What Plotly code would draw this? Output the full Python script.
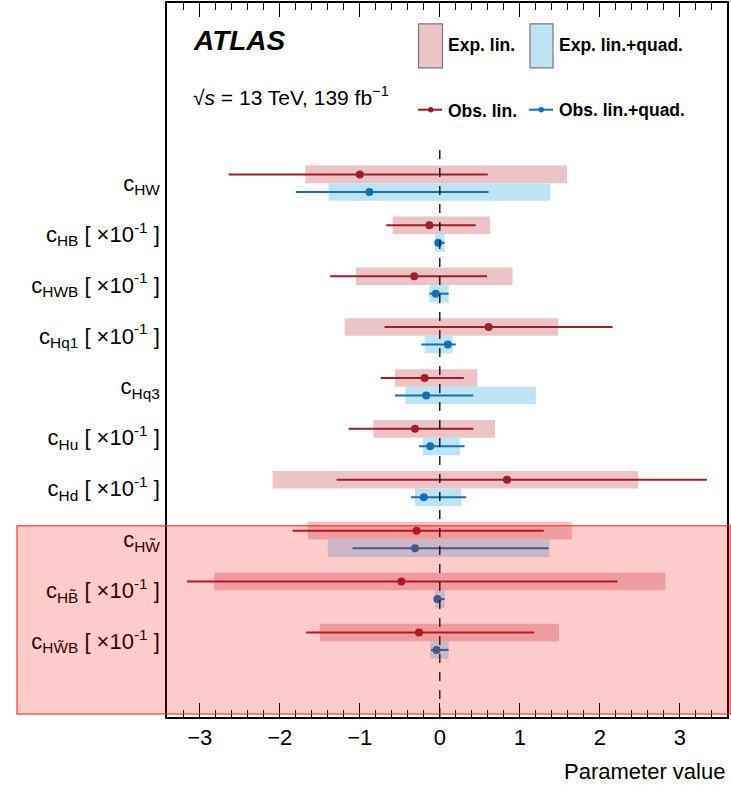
import plotly.graph_objects as go

# ---------------- data ----------------
labels = [
    "c<sub>HW</sub>",
    "c<sub>HB</sub> [ ×10<sup>-1</sup> ]",
    "c<sub>HWB</sub> [ ×10<sup>-1</sup> ]",
    "c<sub>Hq1</sub> [ ×10<sup>-1</sup> ]",
    "c<sub>Hq3</sub>",
    "c<sub>Hu</sub> [ ×10<sup>-1</sup> ]",
    "c<sub>Hd</sub> [ ×10<sup>-1</sup> ]",
    "c<sub>HW̃</sub>",
    "c<sub>HB̃</sub> [ ×10<sup>-1</sup> ]",
    "c<sub>HW̃B</sub> [ ×10<sup>-1</sup> ]",
]
exp_lin_lo = [-1.68, -0.59, -1.05, -1.19, -0.56, -0.83, -2.09, -1.65, -2.82, -1.50]
exp_lin_hi = [1.59, 0.63, 0.91, 1.48, 0.47, 0.69, 2.48, 1.65, 2.82, 1.49]
exp_quad_lo = [-1.39, -0.06, -0.13, -0.19, -0.43, -0.21, -0.31, -1.40, -0.06, -0.12]
exp_quad_hi = [1.38, 0.06, 0.11, 0.16, 1.20, 0.25, 0.27, 1.37, 0.06, 0.11]
obs_lin_val = [-1.00, -0.13, -0.32, 0.61, -0.19, -0.31, 0.84, -0.29, -0.48, -0.26]
obs_lin_lo = [-2.64, -0.67, -1.37, -0.69, -0.74, -1.14, -1.29, -1.84, -3.16, -1.67]
obs_lin_hi = [0.60, 0.45, 0.59, 2.16, 0.30, 0.42, 3.34, 1.30, 2.22, 1.18]
obs_quad_val = [-0.88, -0.02, -0.05, 0.10, -0.17, -0.12, -0.20, -0.31, -0.03, -0.04]
obs_quad_lo = [-1.80, -0.05, -0.13, -0.23, -0.56, -0.26, -0.36, -1.09, -0.06, -0.11]
obs_quad_hi = [0.61, 0.06, 0.11, 0.20, 0.42, 0.31, 0.33, 1.36, 0.06, 0.11]

# ---------------- style ----------------
RED = "#9e1f26"
BLUE = "#1670ad"
PINK = "#ecc4c8"
LBLUE = "#bde4f5"
FONT = "Liberation Sans, Arial, sans-serif"

n = len(labels)
pos = [n - 1 - i for i in range(n)]
off = 0.172
bw = 0.345
y_red = [p + off for p in pos]
y_blue = [p - off for p in pos]

fig = go.Figure()
fig.add_trace(go.Bar(
    y=y_red, x=[h - l for l, h in zip(exp_lin_lo, exp_lin_hi)], base=exp_lin_lo,
    orientation="h", width=bw, marker=dict(color=PINK, line=dict(width=0)),
    showlegend=False, hoverinfo="skip"))
fig.add_trace(go.Bar(
    y=y_blue, x=[h - l for l, h in zip(exp_quad_lo, exp_quad_hi)], base=exp_quad_lo,
    orientation="h", width=bw, marker=dict(color=LBLUE, line=dict(width=0)),
    showlegend=False, hoverinfo="skip"))
fig.add_trace(go.Scatter(
    x=obs_lin_val, y=y_red, mode="markers",
    marker=dict(color=RED, size=8),
    error_x=dict(type="data", symmetric=False,
                 array=[h - v for v, h in zip(obs_lin_val, obs_lin_hi)],
                 arrayminus=[v - l for v, l in zip(obs_lin_val, obs_lin_lo)],
                 color=RED, thickness=2, width=0),
    showlegend=False))
fig.add_trace(go.Scatter(
    x=obs_quad_val, y=y_blue, mode="markers",
    marker=dict(color=BLUE, size=8),
    error_x=dict(type="data", symmetric=False,
                 array=[h - v for v, h in zip(obs_quad_val, obs_quad_hi)],
                 arrayminus=[v - l for v, l in zip(obs_quad_val, obs_quad_lo)],
                 color=BLUE, thickness=2, width=0),
    showlegend=False))

# ---------------- layout ----------------
L, R, T, B = 167, 4, 1, 68
W, H = 731, 785
pw, ph = W - L - R, H - T - B


def px(xpix):
    return (xpix - L) / pw


def py(ypix):
    return (H - B - ypix) / ph


shapes = []
# dashed zero line
shapes.append(dict(type="line", xref="x", yref="y", x0=0, x1=0, y0=-1.49, y1=9.72,
                   line=dict(color="black", width=1.3, dash="dash"), layer="above"))
# legend boxes
shapes.append(dict(type="rect", xref="paper", yref="paper", x0=px(418.5), x1=px(442.5),
                   y0=py(66), y1=py(22), fillcolor=PINK, line=dict(color="#777", width=1.2)))
shapes.append(dict(type="rect", xref="paper", yref="paper", x0=px(530), x1=px(553),
                   y0=py(66), y1=py(22), fillcolor=LBLUE, line=dict(color="#777", width=1.2)))
# legend obs lines
shapes.append(dict(type="line", xref="paper", yref="paper", x0=px(418), x1=px(442),
                   y0=py(108), y1=py(108), line=dict(color=RED, width=2)))
shapes.append(dict(type="line", xref="paper", yref="paper", x0=px(529), x1=px(553),
                   y0=py(108), y1=py(108), line=dict(color=BLUE, width=2)))
shapes.append(dict(type="circle", xref="paper", yref="paper", x0=px(428), x1=px(433.5),
                   y0=py(110.7), y1=py(105.3), fillcolor=RED, line=dict(width=0)))
shapes.append(dict(type="circle", xref="paper", yref="paper", x0=px(538.5), x1=px(544),
                   y0=py(110.7), y1=py(105.3), fillcolor=BLUE, line=dict(width=0)))
# red highlight box for CP-odd operators
shapes.append(dict(type="rect", xref="paper", yref="y", x0=px(17), x1=px(730.5),
                   y0=-1.43, y1=2.27, fillcolor="rgba(255,0,0,0.2)",
                   line=dict(color="rgba(255,40,40,0.75)", width=1.5), layer="above"))

annotations = [
    dict(text="<b><i>ATLAS</i></b>", x=px(191), y=py(39), xref="paper", yref="paper",
         xanchor="left", yanchor="middle", showarrow=False, font=dict(size=28, color="black", family=FONT)),
    dict(text="√<i>s</i> = 13 TeV, 139 fb<sup>−1</sup>", x=px(191), y=py(94), xref="paper", yref="paper",
         xanchor="left", yanchor="middle", showarrow=False, font=dict(size=21, color="black", family=FONT)),
    dict(text="<b>Exp. lin.</b>", x=px(446), y=py(43), xref="paper", yref="paper",
         xanchor="left", yanchor="middle", showarrow=False, font=dict(size=17.5, color="black", family=FONT)),
    dict(text="<b>Exp. lin.+quad.</b>", x=px(557), y=py(43), xref="paper", yref="paper",
         xanchor="left", yanchor="middle", showarrow=False, font=dict(size=17.5, color="black", family=FONT)),
    dict(text="<b>Obs. lin.</b>", x=px(446), y=py(109), xref="paper", yref="paper",
         xanchor="left", yanchor="middle", showarrow=False, font=dict(size=17.5, color="black", family=FONT)),
    dict(text="<b>Obs. lin.+quad.</b>", x=px(557), y=py(108), xref="paper", yref="paper",
         xanchor="left", yanchor="middle", showarrow=False, font=dict(size=17.5, color="black", family=FONT)),
    dict(text="Parameter value", x=px(727), y=py(772), xref="paper", yref="paper",
         xanchor="right", yanchor="middle", showarrow=False, font=dict(size=22, color="black", family=FONT)),
]

fig.update_layout(
    width=W, height=H,
    margin=dict(l=L, r=R, t=T, b=B, pad=0),
    paper_bgcolor="white", plot_bgcolor="white",
    barmode="overlay",
    font=dict(family=FONT, color="black"),
    shapes=shapes, annotations=annotations,
    showlegend=False,
)
fig.update_xaxes(
    range=[-3.41, 3.59], showgrid=False, zeroline=False,
    showline=True, linecolor="black", linewidth=1.5, mirror="ticks",
    ticks="inside", ticklen=14, tickcolor="black", tickwidth=1,
    dtick=1, tick0=0, tickfont=dict(size=22, family=FONT, color="black"),
    minor=dict(dtick=0.2, ticks="inside", ticklen=7, tickcolor="black", tickwidth=1),
)
fig.update_yaxes(
    range=[-1.49, 12.54], showgrid=False, zeroline=False,
    showline=True, linecolor="black", linewidth=1.5, mirror=True,
    ticks="", tickvals=pos, ticktext=labels, ticklabelstandoff=1,
    tickfont=dict(size=22, family=FONT, color="black"),
)

fig.write_html("out.html", config={"displayModeBar": False},
               post_script="document.body.style.margin='0px';")
